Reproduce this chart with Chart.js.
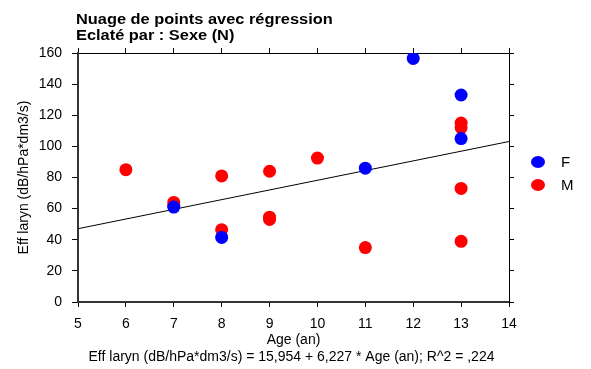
<!DOCTYPE html>
<html>
<head>
<meta charset="utf-8">
<script src="https://cdn.jsdelivr.net/npm/chart.js@4.4.1/dist/chart.umd.min.js"></script>
<style>
  html, body { margin: 0; padding: 0; background: #fff; }
  #wrap { width: 591px; height: 369px; position: relative; }
</style>
</head>
<body>
<div id="wrap"><canvas id="c" width="591" height="369"></canvas></div>
<script>
// données
var ageF = [7, 8, 11, 12, 13, 13];
var effF = [61, 41.5, 86, 156.5, 133, 105];
var ageM = [6, 7, 7, 8, 8, 9, 9, 9, 10, 11, 13, 13, 13, 13];
var effM = [85, 64, 62, 81, 46.5, 84, 54.5, 53, 92.5, 35, 115, 112, 73, 39];
var xTicks = [5, 6, 7, 8, 9, 10, 11, 12, 13, 14];
var yTicks = [0, 20, 40, 60, 80, 100, 120, 140, 160];
var regIntercept = 15.954;
var regSlope = 6.227;

var FONT = '"Liberation Sans", Arial, sans-serif';

function pts(xs, ys) {
  return xs.map(function(x, i) { return { x: x, y: ys[i] }; });
}
var regLine = [xTicks[0], xTicks[xTicks.length - 1]].map(function(x) {
  return { x: x, y: regIntercept + regSlope * x };
});

// titres, légende et équation dessinés à la main
var textPlugin = {
  id: 'texts',
  afterDraw: function(chart) {
    var ctx = chart.ctx, area = chart.chartArea;
    ctx.save();
    ctx.fillStyle = '#000';
    ctx.textBaseline = 'middle';
    ctx.textAlign = 'left';
    // le titre d'origine a des glyphes plus larges : étirement horizontal
    ctx.save();
    ctx.translate(76, 0);
    ctx.scale(1.17, 1);
    ctx.font = 'bold 14px ' + FONT;
    ctx.fillText('Nuage de points avec régression', 0, 20);
    ctx.fillText('Eclaté par : Sexe (N)', 0, 36);
    ctx.restore();

    ctx.font = '14px ' + FONT;
    ctx.textAlign = 'center';
    ctx.fillText('Eff laryn (dB/hPa*dm3/s) = 15,954 + 6,227 * Age (an); R^2 = ,224',
      (area.left + area.right) / 2 - 2, 357);

    ctx.textAlign = 'left';
    var items = [{ t: 'F', c: '#0000ff', y: 162 }, { t: 'M', c: '#ff0000', y: 185 }];
    items.forEach(function(it) {
      ctx.fillStyle = it.c;
      ctx.beginPath();
      ctx.ellipse(538, it.y, 7, 6, 0, 0, Math.PI * 2);
      ctx.fill();
      ctx.fillStyle = '#000';
      ctx.font = '15px ' + FONT;
      ctx.fillText(it.t, 561, it.y + 1);
    });
    ctx.restore();
  }
};

function fixed(prop, v) {
  return function(s) { s[prop] = v; };
}

new Chart(document.getElementById('c'), {
  type: 'scatter',
  data: {
    datasets: [
      { label: 'F', data: pts(ageF, effF), backgroundColor: '#0000ff', borderColor: '#0000ff',
        pointRadius: 6.5, pointHoverRadius: 6.5, borderWidth: 0 },
      { label: 'M', data: pts(ageM, effM), backgroundColor: '#ff0000', borderColor: '#ff0000',
        pointRadius: 6.5, pointHoverRadius: 6.5, borderWidth: 0 },
      { type: 'line', label: 'reg', data: regLine, borderColor: '#000', borderWidth: 1,
        pointRadius: 0, fill: false, tension: 0 }
    ]
  },
  options: {
    responsive: false,
    animation: false,
    layout: { padding: 0 },
    plugins: { legend: { display: false }, tooltip: { enabled: false } },
    scales: {
      x: {
        type: 'linear', position: 'bottom', min: 5, max: 14,
        afterBuildTicks: function(s) { s.ticks = xTicks.map(function(v) { return { value: v }; }); },
        ticks: { color: '#000', font: { family: FONT, size: 14 }, padding: 9, maxRotation: 0 },
        grid: { drawOnChartArea: false, tickLength: 5, color: '#000' },
        border: { color: '#333', width: 2 },
        title: { display: true, text: 'Age (an)', color: '#000', font: { family: FONT, size: 14 },
          padding: { top: 0, bottom: 20 } },
        afterFit: fixed('height', 67)
      },
      x2: {
        type: 'linear', position: 'top', min: 5, max: 14,
        afterBuildTicks: function(s) { s.ticks = xTicks.map(function(v) { return { value: v }; }); },
        ticks: { display: false },
        grid: { drawOnChartArea: false, tickLength: 5, color: '#000' },
        border: { color: '#000', width: 1 },
        afterFit: fixed('height', 53)
      },
      y: {
        type: 'linear', position: 'left', min: 0, max: 160,
        afterBuildTicks: function(s) { s.ticks = yTicks.map(function(v) { return { value: v }; }); },
        ticks: { color: '#000', font: { family: FONT, size: 14 }, padding: 10 },
        grid: { drawOnChartArea: false, tickLength: 6, color: '#000' },
        border: { color: '#333', width: 2 },
        title: { display: true, text: 'Eff laryn (dB/hPa*dm3/s)', color: '#000',
          font: { family: FONT, size: 14 }, padding: { top: 16, bottom: 0 } },
        afterFit: fixed('width', 78)
      },
      y2: {
        type: 'linear', position: 'right', min: 0, max: 160,
        afterBuildTicks: function(s) { s.ticks = yTicks.map(function(v) { return { value: v }; }); },
        ticks: { display: false },
        grid: { drawOnChartArea: false, tickLength: 5, color: '#000' },
        border: { color: '#000', width: 1 },
        afterFit: fixed('width', 82)
      }
    }
  },
  plugins: [textPlugin]
});
</script>
</body>
</html>
